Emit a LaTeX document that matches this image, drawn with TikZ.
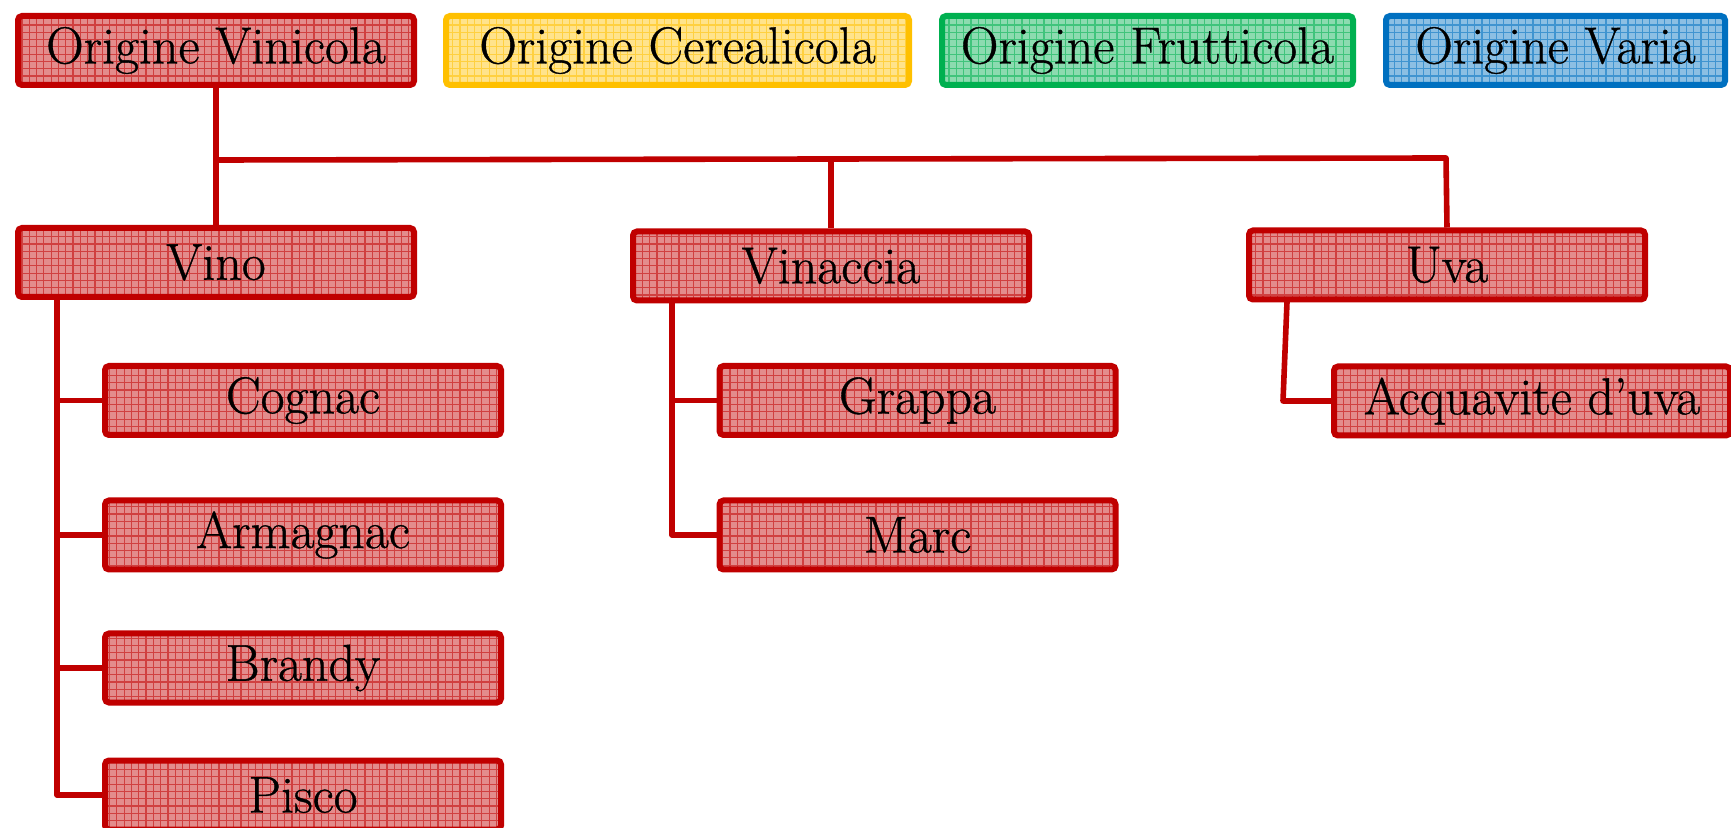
\documentclass[tikz,border=0pt]{standalone}
\usepackage{fontspec}
\usepackage{tikz}
\usetikzlibrary{patterns}

\newfontfamily\vocefont{Latin Modern Roman}[Ligatures=TeX, FakeBold=0.7]

\definecolor{rosso}{HTML}{C00000}
\definecolor{giallo}{HTML}{FFC000}
\definecolor{verde}{HTML}{00B050}
\definecolor{blu}{HTML}{0070C0}

% fine square grid used inside every box
\pgfdeclarepatternformonly{cellgrid}{\pgfpoint{-0.5pt}{-0.5pt}}{\pgfpoint{4pt}{4pt}}{\pgfpoint{3.65pt}{3.65pt}}{
  \pgfsetlinewidth{0.6pt}
  \pgfpathmoveto{\pgfpointorigin}\pgfpathlineto{\pgfpoint{3.65pt}{0pt}}
  \pgfpathmoveto{\pgfpointorigin}\pgfpathlineto{\pgfpoint{0pt}{3.65pt}}
  \pgfusepath{stroke}}

\tikzset{
  voce/.style={draw=#1, line width=3pt, rounded corners=2pt,
    preaction={fill=#1!45}, pattern=cellgrid, pattern color=#1!75,
    minimum width=198pt, minimum height=34.5pt, inner sep=0pt,
    font=\vocefont\fontsize{26}{30}\selectfont},
  voce/.default=rosso,
  ramo/.style={draw=rosso, line width=2.8pt, line join=round}
}

\begin{document}
\begin{tikzpicture}[x=0.5pt, y=-0.5pt]
    \clip (0,0) rectangle (1731,828);

    % Legend of origins
    \node[voce] (ovin) at (216,50.5) {Origine Vinicola};
    \node[voce=giallo, minimum width=231.5pt] (ocer) at (677.5,50.5) {Origine Cerealicola};
    \node[voce=verde, minimum width=205.5pt] (ofru) at (1147.5,50.5) {Origine Frutticola};
    \node[voce=blu, minimum width=169.5pt] (ovar) at (1555.5,50.5) {Origine Varia};

    % Raw materials
    \node[voce] (vino) at (216,262.5) {Vino};
    \node[voce] (vinac) at (831,266) {Vinaccia};
    \node[voce] (uva) at (1447,265) {Uva};

    % Spirits
    \node[voce] (cognac) at (303,400.5) {Cognac};
    \node[voce] (armagnac) at (303,535) {Armagnac};
    \node[voce] (brandy) at (303,668) {Brandy};
    \node[voce] (pisco) at (303,795) {Pisco};
    \node[voce] (grappa) at (917.5,400.5) {Grappa};
    \node[voce] (marc) at (917.5,535) {Marc};
    \node[voce] (acqua) at (1532,401) {Acquavite d’uva};

    % Connectors
    \coordinate (barl) at (216,160);
    \coordinate (barr) at (1446,158);
    \draw[ramo] (ovin.south) -- (vino.north);
    \draw[ramo] (barl) -- (barr) -- (uva.north);
    \draw[ramo] (vinac.north) -- (vinac.north |- barl);

    \coordinate (vspine) at (57,300);
    \draw[ramo] (vspine) |- (pisco.west);
    \foreach \n in {cognac,armagnac,brandy}
        \draw[ramo] (vspine |- \n.west) -- (\n.west);

    \coordinate (gspine) at (672,303);
    \draw[ramo] (gspine) |- (marc.west);
    \draw[ramo] (gspine |- grappa.west) -- (grappa.west);

    \coordinate (uspine) at (1287,302);
    \coordinate (ucorner) at (1283,401);
    \draw[ramo] (uspine) -- (ucorner) -- (acqua.west);

\end{tikzpicture}
\end{document}
